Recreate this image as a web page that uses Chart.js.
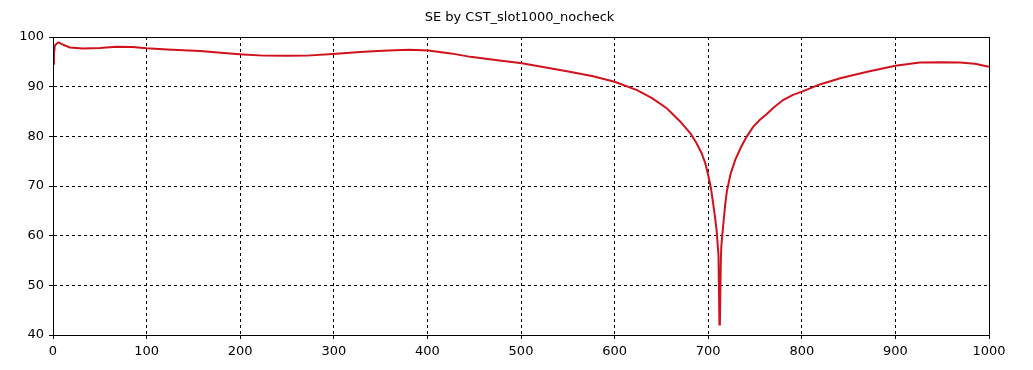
<!DOCTYPE html>
<html>
<head>
<meta charset="utf-8">
<script src="https://cdn.jsdelivr.net/npm/chart.js@4/dist/chart.umd.min.js"></script>
<style>
  html, body { margin: 0; padding: 0; background: #fff; }
  #wrap { width: 1033px; height: 370px; }
</style>
</head>
<body>
<div id="wrap"><canvas id="seChart" width="1033" height="370"></canvas></div>
<script>
"use strict";

const chartTitle = "SE by CST_slot1000_nocheck";

// frequency (x) and SE (y)
const freq = [
  0, 1, 2, 4, 6, 10, 18, 32, 50, 68, 85, 100, 122, 157, 189, 203, 225, 250, 271,
  299, 328, 347, 365, 381, 401, 425, 446, 475, 501, 525, 552, 577, 600, 624, 640,
  656, 670, 681, 687, 693, 697, 700, 703, 707, 709, 711, 712, 712.5, 713.5, 714,
  716, 718, 720, 724, 729, 735, 741, 748, 755, 762, 770, 780, 790, 800, 820, 841,
  870, 900, 926, 950, 969, 985, 1000,
];
const seValues = [
  94.6, 96.5, 98.3, 98.7, 98.9, 98.5, 97.9, 97.7, 97.8, 98.05, 98.0, 97.75, 97.5,
  97.2, 96.7, 96.5, 96.25, 96.2, 96.25, 96.6, 97.0, 97.2, 97.35, 97.45, 97.3, 96.7,
  96.0, 95.3, 94.7, 93.9, 93.0, 92.1, 91.0, 89.3, 87.7, 85.6, 83.0, 80.6, 78.8,
  76.6, 74.5, 72.2, 69.5, 64.2, 61.0, 56.0, 42.1, 42.3, 55.0, 57.8, 62.0, 66.0,
  69.0, 72.5, 75.3, 77.8, 79.9, 81.9, 83.3, 84.4, 85.8, 87.3, 88.3, 89.0, 90.5,
  91.7, 93.0, 94.2, 94.85, 94.9, 94.85, 94.6, 94.0,
];

const xMin = 0, xMax = 1000, xStep = 100;
const yMin = 40, yMax = 100, yStep = 10;

const points = freq.map((f, i) => ({ x: f, y: seValues[i] }));

// box around the plot area (top/right sides included)
const plotBox = {
  id: "plotBox",
  afterDraw(chart) {
    const { ctx, chartArea: a } = chart;
    ctx.save();
    ctx.strokeStyle = "#000";
    ctx.lineWidth = 1;
    ctx.setLineDash([]);
    ctx.strokeRect(Math.round(a.left) + 0.5, Math.round(a.top) + 0.5,
      Math.round(a.right - a.left), Math.round(a.bottom - a.top));
    ctx.restore();
  },
};

const whiteBg = {
  id: "whiteBg",
  beforeDraw(chart) {
    const { ctx, width, height } = chart;
    ctx.save();
    ctx.fillStyle = "#fff";
    ctx.fillRect(0, 0, width, height);
    ctx.restore();
  },
};

const font = { family: "'DejaVu Sans', sans-serif", size: 13 };

new Chart(document.getElementById("seChart"), {
  type: "line",
  data: {
    datasets: [{
      data: points,
      borderColor: "#d0121c",
      borderWidth: 2,
      pointRadius: 0,
      tension: 0,
      fill: false,
    }],
  },
  options: {
    responsive: false,
    animation: false,
    layout: { padding: { left: 6, right: 0, top: 0, bottom: 0 } },
    plugins: {
      legend: { display: false },
      tooltip: { enabled: false },
      title: {
        display: true,
        text: chartTitle,
        color: "#000",
        font: { family: font.family, size: 13, weight: "normal" },
        padding: { top: 10, bottom: 11.4 },
      },
    },
    scales: {
      x: {
        type: "linear",
        min: xMin,
        max: xMax,
        afterFit: (s) => { s.height = 35; },
        ticks: {
          stepSize: xStep,
          color: "#000",
          font,
          padding: 5,
          maxRotation: 0,
          callback: (v) => String(v),
        },
        grid: { color: "#000", lineWidth: 1, tickLength: 4, tickColor: "#000" },
        border: { display: true, color: "#000", dash: [3, 3] },
      },
      y: {
        min: yMin,
        max: yMax,
        afterFit: (s) => { s.width = 47; },
        ticks: { stepSize: yStep, color: "#000", font, padding: 5 },
        grid: { color: "#000", lineWidth: 1, tickLength: 4, tickColor: "#000" },
        border: { display: true, color: "#000", dash: [3, 3] },
      },
      // empty strip on the right, keeps the plot narrower than the canvas
      yRight: {
        position: "right",
        display: true,
        min: yMin,
        max: yMax,
        afterFit: (s) => { s.width = 44; },
        ticks: { display: false },
        grid: { display: false, drawTicks: false },
        border: { display: false },
      },
    },
  },
  plugins: [whiteBg, plotBox],
});
</script>
</body>
</html>
